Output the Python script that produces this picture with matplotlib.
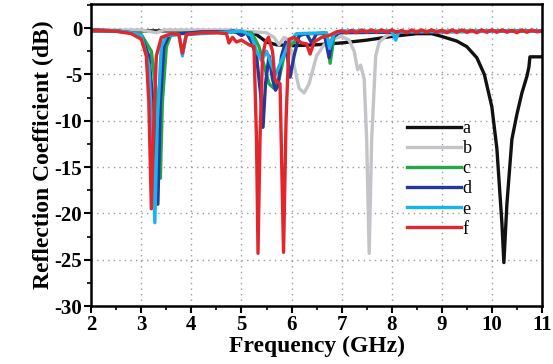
import numpy as np
import matplotlib.pyplot as plt
from matplotlib.ticker import MultipleLocator

plt.rcParams['font.family'] = ['Liberation Serif', 'DejaVu Serif']
plt.rcParams['axes.unicode_minus'] = False

# curve a (black)
fa = [2.0, 4.5, 4.9, 5.1, 5.3, 5.5, 5.7, 6.0, 6.5, 7.0, 7.5, 8.0, 8.5, 8.8, 9.0, 9.3, 9.5,
      9.7, 9.85, 10.0, 10.1, 10.2, 10.24, 10.3, 10.4, 10.5, 10.6, 10.7, 10.74, 10.76, 11.0]
sa = [-0.3, -0.3, -0.3, -0.5, -0.7, -1.5, -1.8, -1.9, -1.8, -1.6, -1.3, -0.9, -0.6, -0.6, -0.9, -1.4, -2.0,
      -3.2, -5.0, -8.5, -13.0, -21.0, -25.3, -19.0, -12.0, -9.3, -7.0, -5.2, -4.2, -3.1, -3.1]

# curve b (gray)
fb = [2.0, 3.0, 3.3, 3.45, 4.8, 5.0, 5.5, 5.65, 5.75, 5.85, 5.95, 6.05, 6.15, 6.25, 6.35, 6.5,
      6.65, 6.8, 7.0, 7.15, 7.25, 7.32, 7.38, 7.45, 7.5, 7.55, 7.6, 7.68, 7.75, 7.9, 8.1, 8.5, 11.0]
sb = [-0.2, -0.2, -0.5, -0.2, -0.2, -0.3, -0.5, -1.0, -1.8, -1.0, -1.3, -4.0, -6.5, -7.0, -6.0, -3.0,
      -1.8, -1.2, -0.9, -1.3, -2.5, -4.5, -4.0, -5.5, -12.0, -24.3, -12.0, -3.0, -1.5, -0.8, -0.5, -0.3, -0.3]

# curve c (green)
fc = [2.0, 2.5, 2.8, 3.0, 3.2, 3.3, 3.38, 3.42, 3.5, 3.6, 4.5, 5.2, 5.35, 5.45, 5.55, 5.65, 5.75,
      5.85, 5.95, 6.05, 6.2, 6.7, 6.77, 6.85, 7.0, 11.0]
sc = [-0.2, -0.3, -0.5, -0.7, -2.5, -7.0, -16.2, -8.0, -2.0, -0.6, -0.4, -0.5, -2.0, -4.0, -6.0, -6.5, -5.5,
      -3.0, -2.0, -1.5, -0.6, -0.6, -3.8, -0.8, -0.4, -0.3]

# curve d (blue)
fd = [2.0, 2.5, 2.8, 3.0, 3.15, 3.25, 3.33, 3.38, 3.45, 3.55, 3.8, 4.2, 4.7, 4.85, 5.0, 5.1, 5.2,
      5.3, 5.38, 5.43, 5.48, 5.55, 5.62, 5.68, 5.73, 5.8, 5.88, 5.97, 6.05, 6.15, 6.3, 6.4, 6.5,
      6.65, 6.75, 6.82, 6.95, 11.0]
sd = [-0.2, -0.3, -0.5, -0.9, -3.0, -9.0, -19.0, -8.0, -2.0, -0.8, -0.6, -0.4, -0.4, -0.3, -0.8, -0.5, -1.5,
      -3.0, -7.0, -10.7, -6.0, -3.0, -5.5, -6.7, -6.2, -3.0, -1.5, -5.3, -3.0, -0.8, -0.6, -1.6, -0.6,
      -0.5, -3.2, -1.0, -0.5, -0.3]

# curve e (cyan)
fe = [2.0, 2.5, 2.8, 3.0, 3.15, 3.22, 3.27, 3.32, 3.4, 3.5, 3.75, 3.82, 3.9, 4.8, 5.0, 5.2, 5.3,
      5.4, 5.5, 5.6, 5.68, 5.8, 5.95, 6.1, 6.7, 6.76, 6.85, 7.0, 8.0, 8.08, 8.14, 11.0]
se = [-0.2, -0.3, -0.5, -0.8, -4.0, -12.0, -21.0, -10.0, -2.0, -0.8, -0.7, -3.0, -0.7, -0.4, -0.3, -0.8, -2.5,
      -3.5, -2.5, -4.0, -5.0, -3.5, -1.5, -0.6, -0.5, -2.2, -0.6, -0.3, -0.3, -1.3, -0.4, -0.3]

# curve f (red)
ff = [2.0, 2.5, 2.8, 3.0, 3.1, 3.15, 3.2, 3.25, 3.3, 3.4, 3.6, 3.75, 3.82, 3.9, 4.2, 4.5, 4.7,
      4.75, 4.82, 4.9, 5.0, 5.15, 5.25, 5.3, 5.33, 5.37, 5.42, 5.48, 5.54, 5.62, 5.67, 5.77, 5.84,
      5.89, 5.95, 6.05, 6.2, 6.3, 6.37, 6.45, 6.6, 6.75, 6.9]
sf = [-0.2, -0.35, -0.6, -1.2, -3.0, -8.0, -19.5, -10.0, -3.0, -1.0, -0.6, -0.7, -2.7, -0.7, -0.5, -0.5, -0.6,
      -1.6, -1.0, -1.5, -1.3, -1.8, -2.0, -12.0, -24.3, -12.0, -3.0, -1.5, -1.0, -2.5, -5.6, -6.0, -24.2,
      -10.0, -1.2, -1.0, -1.6, -1.7, -2.8, -1.5, -1.0, -0.8, -0.4]
# ripple on the red trace above 7 GHz
ff_tail = [7.0, 7.1, 7.2, 7.3, 7.4, 7.5, 7.6, 7.7, 7.8, 7.9, 8.0, 8.1, 8.2, 8.3, 8.4, 8.5, 8.6, 8.7, 8.8, 8.9,
           9.0, 9.1, 9.2, 9.3, 9.4, 9.5, 9.6, 9.7, 9.8, 9.9, 10.0, 10.1, 10.2, 10.3, 10.4, 10.5, 10.6, 10.7, 10.8, 10.9, 11.0]
sf_tail = [-0.3, -0.5, -0.25, -0.5, -0.2, -0.45, -0.2, -0.45, -0.2, -0.45, -0.2, -0.45, -0.25, -0.5, -0.2, -0.45,
           -0.2, -0.45, -0.2, -0.45, -0.25, -0.5, -0.2, -0.45, -0.2, -0.45, -0.25, -0.5, -0.2, -0.45, -0.2, -0.45,
           -0.2, -0.45, -0.25, -0.5, -0.2, -0.45, -0.2, -0.4, -0.3]

labels = ['a', 'b', 'c', 'd', 'e', 'f']
colors = ['#111111', '#c3c4c8', '#22a844', '#233a9c', '#1ab4ec', '#e2262b']

fig = plt.figure(figsize=(5.53, 3.64), dpi=100)
ax = fig.add_axes([0.165, 0.159, 0.815, 0.83])

curves = [(fa, sa), (fb, sb), (fc, sc), (fd, sd), (fe, se), (ff + ff_tail, sf + sf_tail)]
for (x, y), lab, col in zip(curves, labels, colors):
    ax.plot(x, y, color=col, lw=2.4, label=lab, solid_joinstyle='round')

ax.set_xlim(2, 11)
ax.set_ylim(-30, 2.6)
ax.xaxis.set_major_locator(MultipleLocator(1))
ax.xaxis.set_minor_locator(MultipleLocator(0.5))
ax.yaxis.set_major_locator(MultipleLocator(5))
ax.yaxis.set_minor_locator(MultipleLocator(2.5))
ax.grid(True, which='major', color='#9a9aa6', linestyle=(0, (1, 3)), lw=1.0)
ax.tick_params(which='major', direction='out', length=5, width=1.5, labelsize=15, pad=1.5)
ax.tick_params(which='minor', direction='out', length=3, width=1.2)
for lbl in ax.get_xticklabels() + ax.get_yticklabels():
    lbl.set_fontweight('bold')
for sp in ax.spines.values():
    sp.set_linewidth(1.8)

ax.set_xlabel('Frequency (GHz)', fontsize=17, fontweight='bold', labelpad=0.5)
ax.set_ylabel('Reflection Coefficient (dB)', fontsize=17, fontweight='bold', labelpad=0)

ax.legend(loc='upper left', bbox_to_anchor=(0.68, 0.645), frameon=False, fontsize=13,
          handlelength=3.0, handletextpad=0.1, labelspacing=0.17, borderpad=0)

fig.savefig('out.png', dpi=100)
